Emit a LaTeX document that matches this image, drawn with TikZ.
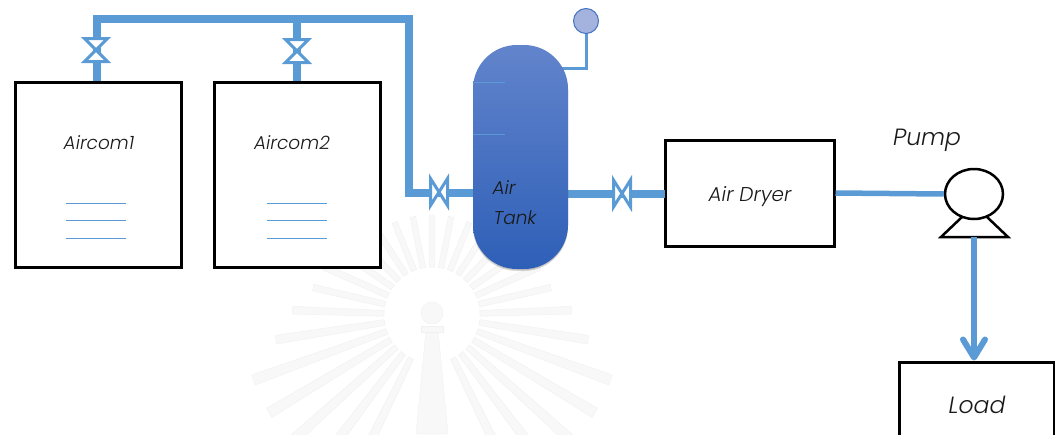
\documentclass[tikz,border=0pt]{standalone}
\usepackage{fontspec}
\usepackage{xcolor}
\usetikzlibrary{arrows.meta,shadows,shapes.geometric}
\newfontfamily\labelfont{Poppins Light Italic}
\definecolor{PipeBlue}{HTML}{5B9BD5}
\definecolor{GaugeBlue}{HTML}{4472C4}
\definecolor{GaugeFill}{HTML}{A4B2DE}
\definecolor{TankTop}{HTML}{6284CC}
\definecolor{TankBottom}{HTML}{2E5FB7}
\definecolor{MarkShade}{HTML}{F8F8F8}
\tikzset{
  unitbox/.style={draw=black,line width=3pt,fill=white,inner sep=0pt},
  pipe/.style={draw=PipeBlue,line width=7.5pt},
  tag/.style={font=\labelfont\fontsize{18.5}{22}\selectfont,text=black!90,inner sep=0pt},
  bigtag/.style={font=\labelfont\fontsize{23.5}{26}\selectfont,text=black!90,inner sep=0pt},
  level/.style={draw=PipeBlue,line width=1pt},
  valve/.pic={
    \draw[draw=PipeBlue,fill=white,line width=3pt,miter limit=4]
      (-11.5,-11.5) -- (11.5,-11.5) -- (-11.5,11.5) -- (11.5,11.5) -- cycle;
  },
  sidevalve/.pic={
    \draw[draw=PipeBlue,fill=white,line width=3pt,miter limit=4]
      (-8.5,-13.5) -- (-8.5,13.5) -- (8.5,-13.5) -- (8.5,13.5) -- cycle;
  }
}

\begin{document}
\begin{tikzpicture}[x=1pt,y=-1pt]
  \useasboundingbox (0,0) rectangle (1055,434);
  \clip (0,0) rectangle (1055,434);
  % faint mark behind the plant
  \foreach \ang/\len in {-90/100,-79/100,-68/100,-57/105,-46/110,-35/120,-24/118,-13/122,-2/140,9/158,20/190,31/190,42/190,53/190,64/190,
    -101/100,-112/100,-123/105,-134/110,-145/120,-156/118,-167/122,-178/140,171/158,160/190,149/190,138/190,127/190,116/190}
    \fill[MarkShade,draw=black!6] ([shift={(\ang-3.5:48)}]432,315) -- ([shift={(\ang-1.6:\len)}]432,315) -- ([shift={(\ang+1.6:\len)}]432,315) -- ([shift={(\ang+3.5:48)}]432,315) -- cycle;
  \fill[MarkShade,draw=black!6] (432,313) circle (11);
  \fill[MarkShade,draw=black!6] (426,330) -- (438,330) -- (448,434) -- (416,434) -- cycle;
  \fill[MarkShade,draw=black!6] (421,326) rectangle (443,332);
  % units
  \node[unitbox,minimum width=166pt,minimum height=185pt] (aircomA) at (98,174.5) {};
  \node[unitbox,minimum width=166pt,minimum height=185pt] (aircomB) at (297,174.5) {};
  \node[unitbox,minimum width=169pt,minimum height=106pt] (dryer) at (749.5,193) {};
  \node[unitbox,minimum width=155pt,minimum height=85pt] (load) at (977,404.5) {};
  \coordinate (valveA) at (96,50);
  \coordinate (valveB) at (297,51);
  \coordinate (valveC) at (439,192);
  \coordinate (valveD) at (622,193.5);
  \coordinate (headA) at (97,19);
  \coordinate (headB) at (297,19);
  \coordinate (headC) at (409,19);
  \coordinate (headD) at (409,193);
  \coordinate (gaugeBend) at (586,68);
  \coordinate (tankTap) at (560,68);
  \coordinate (tankIn) at (480,193);
  \coordinate (tankOut) at (560,194);
  \coordinate (dryerIn) at (665,194);
  % pipes
  \draw[pipe] (aircomA.north -| headA) -- (headA) -- (headC) -- (headD) -- (tankIn);
  \draw[pipe] (aircomB.north) -- (headB);
  \draw[pipe] (tankOut) -- (dryerIn);
  \draw[draw=PipeBlue,line width=3pt] (tankTap) -- (gaugeBend) -- (586,30);
  % tank and gauge
  \node[draw=none,inner sep=0pt,rounded corners=44pt,minimum width=95pt,minimum height=224pt,
    top color=TankTop,bottom color=TankBottom,
    general shadow={fill=black,opacity=.10,scale=1.03,shadow yshift=-1pt},
    general shadow={fill=black,opacity=.15,shadow yshift=-2pt}] (tank) at (520.5,157) {};
  \node[circle,draw=GaugeBlue,fill=GaugeFill,line width=1pt,minimum size=25pt,inner sep=0pt] (gauge) at (586,21) {};
  \draw[draw=PipeBlue,line width=.8pt] (473,82) -- (505,82);
  \draw[draw=PipeBlue,line width=.8pt] (473,134) -- (505,134);
  % valves
  \pic at (valveA) {valve};
  \pic at (valveB) {valve};
  \pic at (valveC) {sidevalve};
  \pic at (valveD) {sidevalve};
  % pump
  \draw[draw=black,fill=white,line width=2.5pt,line join=miter] (962,217) -- (941,237) -- (1008,237) -- (987,217);
  \node[ellipse,draw=black,fill=white,line width=2.5pt,minimum width=58pt,minimum height=50pt,inner sep=0pt] (pump) at (974,194) {};
  \coordinate (pumpOut) at (974,237);
  \draw[draw=PipeBlue,line width=5.5pt] (dryer.east |- 0,193) -- (pump.west);
  \draw[draw=PipeBlue,line width=6pt,-{Straight Barb[round,length=18pt,width=22pt]}] (pumpOut) -- (pumpOut |- load.north);
  % level marks
  \foreach \yy in {203,220,238} {
    \draw[level] (66,\yy) -- (126,\yy);
    \draw[level] (267,\yy) -- (327,\yy);
  }
  % labels
  \node[tag] (labelA) at (99,143) {Aircom1};
  \node[tag] (labelB) at (292,143) {Aircom2};
  \node[tag] (labelC) at (504,188) {Air};
  \node[tag] (labelD) at (515,218) {Tank};
  \node[tag,font=\labelfont\fontsize{20}{23}\selectfont] (labelE) at (750,197) {Air Dryer};
  \node[bigtag] (labelF) at (927,140) {Pump};
  \node[bigtag] (labelG) at (977,405) {Load};
\end{tikzpicture}
\end{document}
